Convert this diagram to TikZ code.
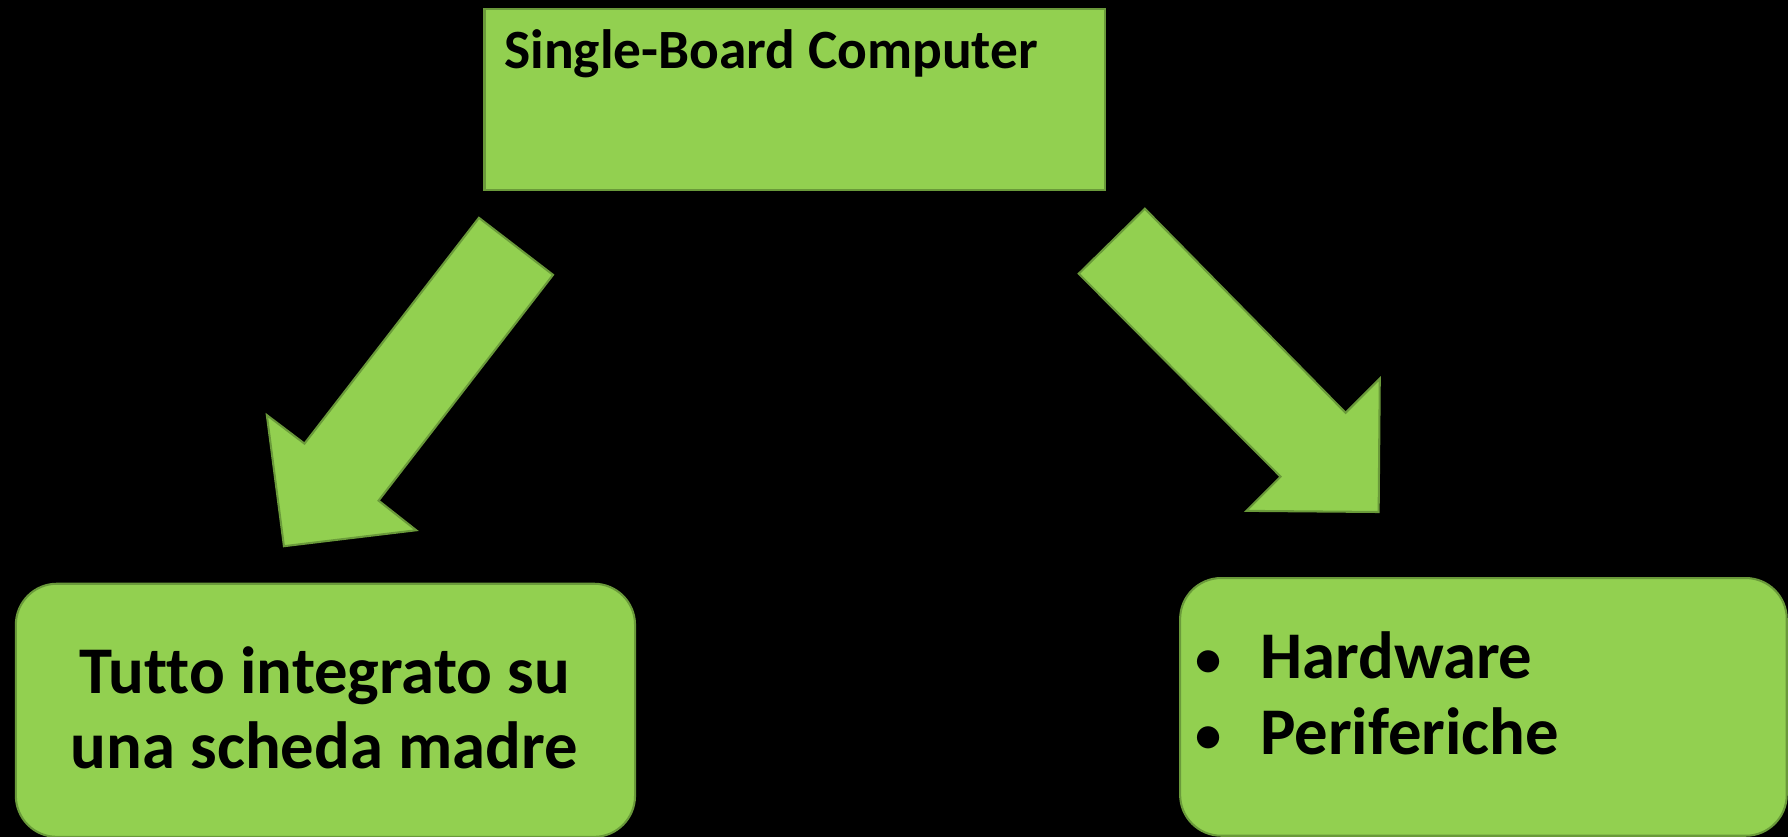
\documentclass[tikz,border=0pt]{standalone}
\usepackage{fontspec}
\setmainfont{Carlito}[Ligatures={NoCommon}]
\definecolor{boxfill}{HTML}{92D050}
\definecolor{boxline}{HTML}{6A9A3A}
\begin{document}
\begin{tikzpicture}[x=1pt,y=-1pt,
  greenshape/.style={fill=boxfill,draw=boxline,line width=1.8pt,line join=miter},
  boxtext/.style={inner sep=0pt,text=black,font=\bfseries\fontsize{58.5}{66}\selectfont},
  bullettext/.style={inner sep=0pt,text=black,font=\bfseries\fontsize{46}{66}\selectfont},
  toptext/.style={inner sep=0pt,text=black,font=\bfseries\fontsize{48.6}{58}\selectfont}]
\useasboundingbox (0,0) rectangle (1568,734);
\fill[black] (0,0) rectangle (1568,734);
% top box
\node[greenshape,rectangle,anchor=north west,minimum width=544pt,minimum height=159pt,inner sep=0pt] (sbc) at (424,7) {};
\node[toptext,anchor=base west] (sbctext) at (442,60) {Single-Board Computer};
% bottom left box
\node[greenshape,rectangle,rounded corners=36pt,anchor=north west,minimum width=543pt,minimum height=222pt,inner sep=0pt] (left) at (13,511) {};
\node[boxtext,anchor=base] (l1) at (284.5,608) {Tutto integrato su};
\node[boxtext,anchor=base] (l2) at (284.5,674) {una scheda madre};
% bottom right box
\node[greenshape,rectangle,rounded corners=36pt,anchor=north west,minimum width=532pt,minimum height=226pt,inner sep=0pt] (right) at (1034,506) {};
\node[bullettext,anchor=base] (b1) at (1060,593) {•};
\node[boxtext,anchor=base west] (r1) at (1105,595) {Hardware};
\node[bullettext,anchor=base] (b2) at (1060,660) {•};
\node[boxtext,anchor=base west] (r2) at (1105,662) {Periferiche};
% block arrows
\draw[greenshape] (420,191) -- (485,241) -- (332,439) -- (365,465) -- (249,479) -- (234,364) -- (267,389) -- cycle;
\draw[greenshape] (1004,183) -- (946,240) -- (1123,418) -- (1093,448) -- (1209,449) -- (1210,332) -- (1180,362) -- cycle;
\end{tikzpicture}
\end{document}
